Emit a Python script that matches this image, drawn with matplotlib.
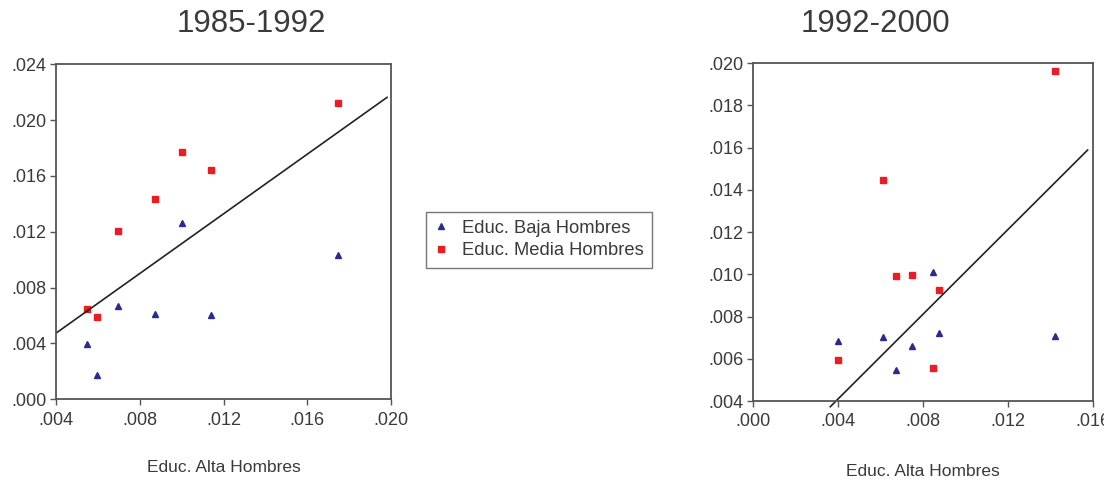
import matplotlib
matplotlib.use("Agg")
import matplotlib.pyplot as plt
from matplotlib.lines import Line2D

plt.rcParams['font.family'] = ['Liberation Sans', 'DejaVu Sans']

# ---- data: 1985-1992 ----
x1 = [0.00547, 0.00596, 0.00695, 0.00874, 0.01000, 0.01139, 0.01746]
baja1 = [0.00398, 0.00173, 0.00669, 0.00609, 0.01266, 0.00605, 0.01036]
media1 = [0.00647, 0.00592, 0.01204, 0.01437, 0.01772, 0.01645, 0.02120]
fit1_x = [0.00403, 0.01981]
fit1_y = [0.00477, 0.02163]

# ---- data: 1992-2000 ----
x2_baja = [0.00400, 0.00612, 0.00673, 0.00747, 0.00846, 0.00875, 0.01422]
baja2 = [0.00685, 0.00702, 0.00547, 0.00660, 0.01009, 0.00720, 0.00709]
x2_media = [0.00400, 0.00612, 0.00673, 0.00747, 0.00875, 0.00846, 0.01422]
media2 = [0.00596, 0.01445, 0.00993, 0.00996, 0.00925, 0.00555, 0.01964]
fit2_x = [0.00363, 0.01576]
fit2_y = [0.00373, 0.01588]

xticks1 = [0.004, 0.008, 0.012, 0.016, 0.020]
yticks1 = [0.000, 0.004, 0.008, 0.012, 0.016, 0.020, 0.024]
xticks2 = [0.000, 0.004, 0.008, 0.012, 0.016]
yticks2 = [0.004, 0.006, 0.008, 0.010, 0.012, 0.014, 0.016, 0.018, 0.020]

titles = ["1985-1992", "1992-2000"]
xlabel = "Educ. Alta Hombres"
series_names = ["Educ. Baja Hombres", "Educ. Media Hombres"]

BLUE = "#2a2a90"
RED = "#ec1c24"
TXT = "#3a3a3a"
FRAME = "#555555"

W, H = 1104, 482
fig = plt.figure(figsize=(W / 100, H / 100), dpi=100)

def fmt(v):
    return ("%.3f" % v)[1:]

def style(ax, xt, yt, xl, yl):
    ax.set_xlim(*xl)
    ax.set_ylim(*yl)
    ax.set_xticks(xt)
    ax.set_yticks(yt)
    ax.set_xticklabels([fmt(v) for v in xt])
    ax.set_yticklabels([fmt(v) for v in yt])
    for s in ax.spines.values():
        s.set_color(FRAME)
        s.set_linewidth(1.3)
    ax.tick_params(direction='out', length=4, width=1, color=FRAME,
                   labelcolor=TXT, labelsize=13)
    ax.tick_params(axis='x', pad=5)
    ax.tick_params(axis='y', pad=3)

# left panel
ax1 = fig.add_axes([56 / W, 1 - 399.3 / H, 335 / W, 335 / H])
ax1.plot(x1, baja1, linestyle='none', marker='^', ms=5, color=BLUE, mec=BLUE)
ax1.plot(x1, media1, linestyle='none', marker='s', ms=5, color=RED, mec=RED)
ax1.plot(fit1_x, fit1_y, color="#222222", lw=1.2)
style(ax1, xticks1, yticks1, (0.004, 0.020), (0.000, 0.024))

# right panel
ax2 = fig.add_axes([753.3 / W, 1 - 401 / H, 339.4 / W, 338 / H])
ax2.plot(x2_baja, baja2, linestyle='none', marker='^', ms=5, color=BLUE, mec=BLUE)
ax2.plot(x2_media, media2, linestyle='none', marker='s', ms=5, color=RED, mec=RED)
ax2.plot(fit2_x, fit2_y, color="#222222", lw=1.2, clip_on=False)
style(ax2, xticks2, yticks2, (0.000, 0.016), (0.004, 0.020))

# titles
fig.text(251.5 / W, 1 - 24 / H, titles[0], ha='center', va='center',
         fontsize=22.5, color=TXT)
fig.text(875 / W, 1 - 24 / H, titles[1], ha='center', va='center',
         fontsize=22.5, color=TXT)

# x labels
fig.text(224 / W, 1 - 468 / H, xlabel, ha='center', va='center',
         fontsize=12.5, color=TXT)
fig.text(923 / W, 1 - 471 / H, xlabel, ha='center', va='center',
         fontsize=12.5, color=TXT)

# legend
handles = [Line2D([], [], linestyle='none', marker='^', ms=4.5, color=BLUE),
           Line2D([], [], linestyle='none', marker='s', ms=4.5, color=RED)]
leg = fig.legend(handles, series_names, loc='center',
                 bbox_to_anchor=(539 / W, 1 - 239.5 / H),
                 fontsize=13.2, frameon=True, fancybox=False,
                 handlelength=0.8, handletextpad=0.75, borderpad=0.45,
                 labelspacing=0.3, borderaxespad=0)
leg.get_frame().set_edgecolor(FRAME)
leg.get_frame().set_linewidth(1.0)
for t in leg.get_texts():
    t.set_color(TXT)

fig.savefig("out.png", dpi=100)
